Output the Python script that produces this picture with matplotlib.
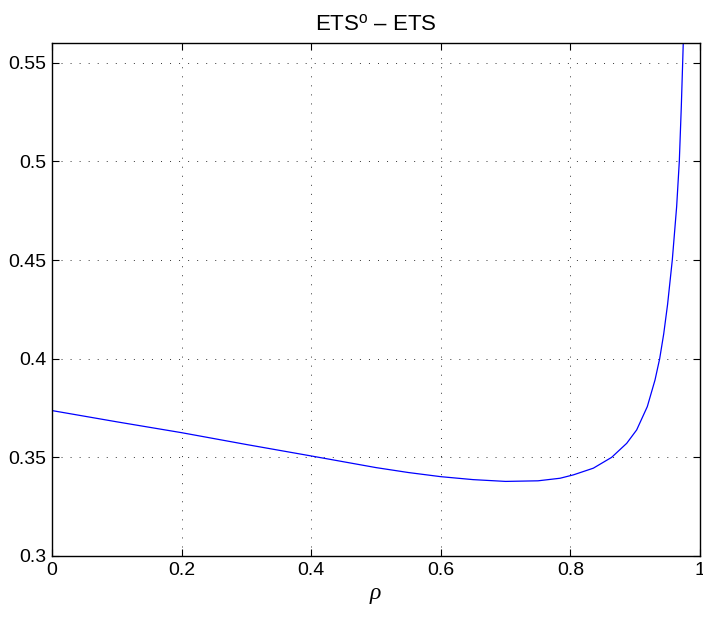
import matplotlib
matplotlib.use("Agg")
import matplotlib.pyplot as plt
from matplotlib.ticker import FuncFormatter

plt.rcParams['font.family'] = ['Liberation Sans', 'DejaVu Sans']
plt.rcParams['mathtext.fontset'] = 'custom'
plt.rcParams['mathtext.rm'] = 'Liberation Sans'
plt.rcParams['mathtext.it'] = 'Liberation Serif:italic'

# valeurs
rho = [0.0, 0.1, 0.2, 0.3, 0.4, 0.5, 0.55, 0.6, 0.65, 0.7, 0.75, 0.784,
       0.8045, 0.8354, 0.8637, 0.8869, 0.9023, 0.9187, 0.9306, 0.9378,
       0.944, 0.95, 0.9573, 0.964, 0.9681, 0.9712, 0.9733, 0.9742]
diff = [0.3737, 0.368, 0.3625, 0.3565, 0.3507, 0.3448, 0.3423, 0.3402,
        0.3387, 0.3378, 0.3381, 0.3394, 0.3411, 0.3445, 0.35, 0.3571,
        0.3639, 0.3757, 0.3892, 0.4, 0.4125, 0.4275, 0.4501, 0.4771,
        0.5, 0.5279, 0.5502, 0.56]

xticks = [0, 0.2, 0.4, 0.6, 0.8, 1]
yticks = [0.3, 0.35, 0.4, 0.45, 0.5, 0.55]

fig = plt.figure(figsize=(7.03, 6.19), dpi=100)
ax = fig.add_axes([0.074, 0.1018, 0.9217, 0.8287])

ax.plot(rho, diff, color='#0000ff', lw=0.9)

ax.set_xlim(0, 1)
ax.set_ylim(0.3, 0.56)
ax.set_xticks(xticks)
ax.set_yticks(yticks)
ax.xaxis.set_major_formatter(FuncFormatter(lambda v, p: '%g' % v))
ax.yaxis.set_major_formatter(FuncFormatter(lambda v, p: '%g' % v))
ax.tick_params(direction='in', top=True, right=True, length=5, width=0.8,
               labelsize=14, pad=4)
ax.grid(True, color='#333333', linestyle=(0, (1, 8.3)), linewidth=0.7)
for s in ax.spines.values():
    s.set_linewidth(1.0)

ax.set_title('ETS$^{\\rm o}$ \u2013 ETS', fontsize=16, pad=9)
ax.set_xlabel('$\\rho$', fontsize=17, labelpad=4)

fig.savefig('out.png', dpi=100)
